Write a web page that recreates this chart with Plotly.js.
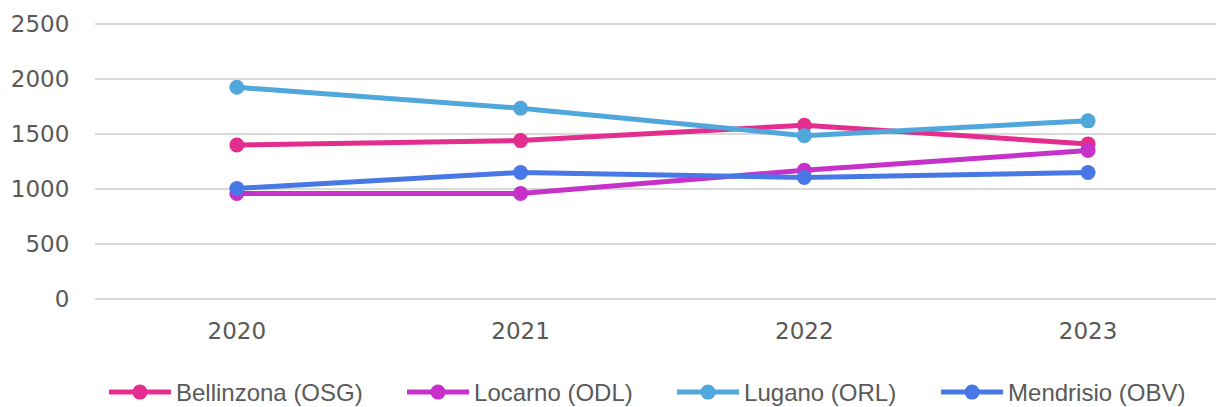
<!DOCTYPE html>
<html>
<head>
<meta charset="utf-8">
<script src="https://cdn.plot.ly/plotly-3.0.1.min.js"></script>
<style>html,body{margin:0;padding:0;background:#fff;}#chart{width:1216px;height:407px;}</style>
</head>
<body>
<div id="chart"></div>
<script>
const years = ['2020', '2021', '2022', '2023'];
const bellinzona = [1400, 1440, 1580, 1410];
const locarno = [960, 960, 1170, 1350];
const lugano = [1925, 1735, 1485, 1620];
const mendrisio = [1005, 1150, 1105, 1150];
const seriesNames = ['Bellinzona (OSG)', 'Locarno (ODL)', 'Lugano (ORL)', 'Mendrisio (OBV)'];
const seriesColors = ['#E32E8D', '#C631C9', '#50A7DC', '#4878E5'];
const yTicks = [0, 500, 1000, 1500, 2000, 2500];

const legendIds = ['legend', 'legend2', 'legend3', 'legend4'];
const legendX = [0.0080, 0.2739, 0.5148, 0.7503];

const allSeries = [bellinzona, locarno, lugano, mendrisio];
const traces = allSeries.map((vals, i) => ({
  type: 'scatter',
  mode: 'lines+markers',
  x: years,
  y: vals,
  name: seriesNames[i],
  legend: legendIds[i],
  line: {color: seriesColors[i], width: 5},
  marker: {color: seriesColors[i], size: 15},
  hoverinfo: 'x+y+name'
}));

const layout = {
  width: 1216,
  height: 407,
  margin: {l: 95, r: 0, t: 23.4, b: 106.6, pad: 0, autoexpand: false},
  paper_bgcolor: '#ffffff',
  plot_bgcolor: '#ffffff',
  showlegend: true,
  xaxis: {
    type: 'category',
    range: [-0.5, 3.451],
    showgrid: false,
    zeroline: false,
    showline: false,
    ticks: 'outside',
    ticklen: 10,
    tickcolor: 'rgba(0,0,0,0)',
    tickfont: {family: 'DejaVu Sans', size: 23, color: '#595959'}
  },
  yaxis: {
    range: [-10, 2510],
    tickvals: yTicks,
    ticktext: yTicks.map(String),
    showgrid: true,
    gridcolor: '#D9D9D9',
    gridwidth: 1.5,
    zeroline: false,
    showline: false,
    ticks: 'outside',
    ticklen: 20,
    tickcolor: 'rgba(0,0,0,0)',
    tickfont: {family: 'DejaVu Sans', size: 23, color: '#595959'}
  }
};

legendIds.forEach((id, i) => {
  layout[id] = {
    orientation: 'h',
    x: legendX[i],
    xanchor: 'left',
    y: -0.334,
    yanchor: 'middle',
    bgcolor: 'rgba(0,0,0,0)',
    font: {family: 'Liberation Sans, Arial, sans-serif', size: 24, color: '#595959'},
    itemwidth: 62
  };
});

Plotly.newPlot('chart', traces, layout, {displayModeBar: false, staticPlot: true});
</script>
</body>
</html>
